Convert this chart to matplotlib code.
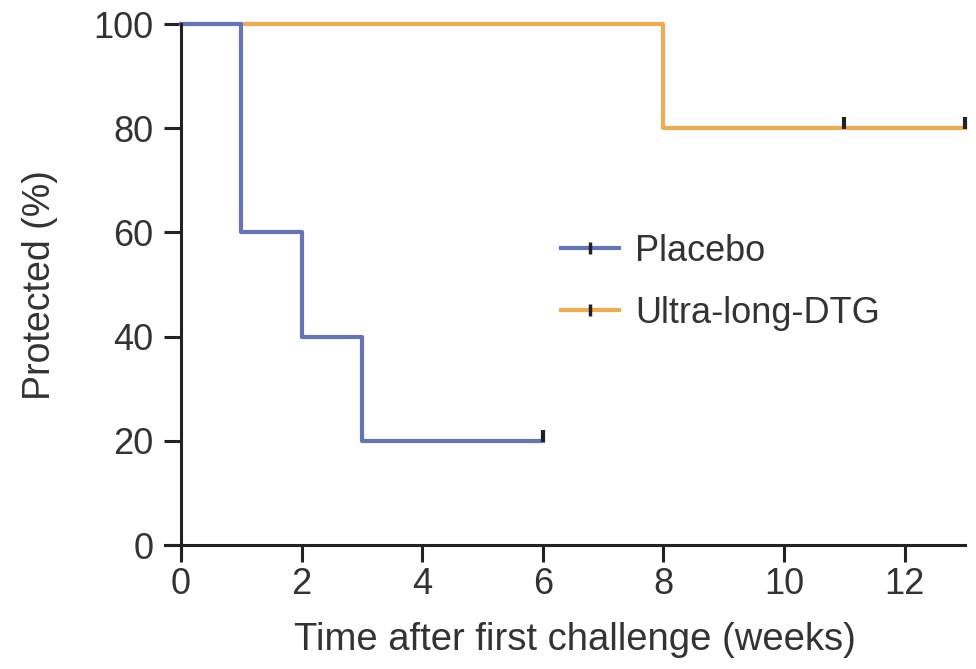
import numpy as np
import matplotlib.pyplot as plt
from matplotlib.lines import Line2D

plt.rcParams['font.family'] = ['Liberation Sans', 'DejaVu Sans']

# survival steps
placebo_t = [0, 1, 2, 3, 6]
placebo_y = [100, 60, 40, 20, 20]
dtg_t = [0, 8, 13]
dtg_y = [100, 80, 80]

# censored points
placebo_cens_t = [6]
placebo_cens_y = [20]
dtg_cens_t = [11, 13]
dtg_cens_y = [80, 80]

blue = '#6573b8'
orange = '#f2ab4f'

fig = plt.figure(figsize=(9.76, 6.69), dpi=100)
ax = fig.add_axes([0.1688, 0.1674, 0.8199, 0.7967])

ax.step(dtg_t, dtg_y, where='post', color=orange, lw=3, clip_on=False)
ax.step(placebo_t, placebo_y, where='post', color=blue, lw=3, clip_on=False)
ax.plot(dtg_cens_t, np.array(dtg_cens_y) + 1, ls='none', marker='|', color='#222222',
        ms=9, mew=3, clip_on=False)
ax.plot(placebo_cens_t, np.array(placebo_cens_y) + 1, ls='none', marker='|', color='#222222',
        ms=9, mew=3, clip_on=False)

ax.set_xlim(-0.27, 13)
ax.set_ylim(-2.3, 100)
ax.spines['left'].set_position(('data', 0))
ax.spines['bottom'].set_position(('data', 0))
ax.spines['top'].set_visible(False)
ax.spines['right'].set_visible(False)
for s in ['left', 'bottom']:
    ax.spines[s].set_linewidth(2.2)
    ax.spines[s].set_color('#222222')

ax.set_xticks([0, 2, 4, 6, 8, 10, 12])
ax.set_yticks([0, 20, 40, 60, 80, 100])
ax.tick_params(direction='out', length=12, width=2.2, color='#222222',
               labelsize=26, labelcolor='#333333')
ax.tick_params(axis='x', pad=4)
ax.tick_params(axis='y', pad=8)

ax.set_xlabel('Time after first challenge (weeks)', fontsize=27.5, color='#333333')
ax.xaxis.set_label_coords(0.513, -0.155, transform=ax.transAxes)
ax.xaxis.label.set_va('center')
ax.set_ylabel('Protected (%)', fontsize=27, color='#333333')
ax.yaxis.set_label_coords(-0.133, 0.51)

h1 = (Line2D([], [], color=blue, lw=3), Line2D([], [], ls='none', marker='|', color='#222222', ms=8, mew=2.5))
h2 = (Line2D([], [], color=orange, lw=3), Line2D([], [], ls='none', marker='|', color='#222222', ms=8, mew=2.5))
ax.legend([h1, h2], ['Placebo', 'Ultra-long-DTG'], loc='center left',
          bbox_to_anchor=(0.455, 0.515), frameon=False, fontsize=26, labelcolor='#333333',
          handlelength=1.6, handletextpad=0.45, labelspacing=0.75)

fig.savefig('out.png', dpi=100)
